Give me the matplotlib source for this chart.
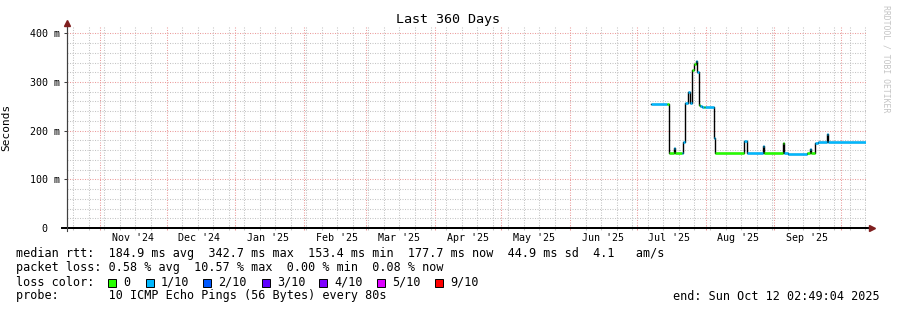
import numpy as np
import pandas as pd
import matplotlib
matplotlib.use("Agg")
import matplotlib.pyplot as plt
import matplotlib.dates as mdates
from matplotlib.patches import Rectangle

# ---------------- data ----------------
start_time = "2024-10-17 02:49:04"
end_time = "2025-10-12 02:49:04"

seg_start = [
    "2025-07-07 10:00", "2025-07-14 12:00", "2025-07-15 16:00", "2025-07-17 19:00",
    "2025-07-18 05:00", "2025-07-21 12:00", "2025-07-21 23:00", "2025-07-22 21:00",
    "2025-07-24 02:00", "2025-07-25 00:00", "2025-07-25 22:00", "2025-07-26 19:00",
    "2025-07-27 12:00", "2025-07-28 03:00", "2025-07-28 22:00", "2025-07-29 12:00",
    "2025-07-30 10:00", "2025-07-31 06:00", "2025-07-31 18:00", "2025-08-04 17:00",
    "2025-08-05 07:00", "2025-08-18 08:00", "2025-08-19 16:00", "2025-08-26 18:00",
    "2025-08-27 04:00", "2025-09-05 00:00", "2025-09-05 10:00", "2025-09-07 00:00",
    "2025-09-15 18:00", "2025-09-17 02:00", "2025-09-17 12:00", "2025-09-19 12:00",
    "2025-09-20 14:00", "2025-09-24 15:00", "2025-09-25 09:00",
]
median_ms = [
    255, 255, 155, 165,
    155, 155, 176, 256,
    279, 256, 324, 336,
    343, 320, 252, 251,
    248, 248, 248, 185,
    154, 179, 155, 168,
    155, 175, 155, 153,
    154, 163, 154, 175,
    177, 193, 177,
]
loss = [
    0.1, 0.0, 0.0, 0.1,
    0.0, 0.1, 0.1, 0.1,
    0.1, 0.1, 0.0, 0.0,
    0.1, 0.1, 0.0, 0.1,
    0.1, 0.0, 0.1, 0.1,
    0.0, 0.1, 0.1, 0.1,
    0.0, 0.0, 0.1, 0.1,
    0.0, 0.1, 0.0, 0.1,
    0.1, 0.1, 0.1,
]

month_labels = ["Nov '24", "Dec '24", "Jan '25", "Feb '25", "Mar '25", "Apr '25",
                "May '25", "Jun '25", "Jul '25", "Aug '25", "Sep '25"]
ytick_vals = [0, 100, 200, 300, 400]
ytick_labels = ["  0", "100 m", "200 m", "300 m", "400 m"]

loss_levels = [0.0, 0.1, 0.2, 0.3, 0.4, 0.5, 0.9]
loss_names = ["0", "1/10", "2/10", "3/10", "4/10", "5/10", "9/10"]
loss_colors = ["#26ff00", "#00b8ff", "#0059ff", "#5e00ff", "#7e00ff", "#dd00ff", "#ff0000"]

rtt_avg, rtt_max, rtt_min, rtt_now, rtt_sd, am_s = 184.9, 342.7, 153.4, 177.7, 44.9, 4.1
pl_avg, pl_max, pl_min, pl_now = 0.58, 10.57, 0.00, 0.08
probe_text = "10 ICMP Echo Pings (56 Bytes) every 80s"
end_text = "end: Sun Oct 12 02:49:04 2025"
title = "Last 360 Days"

# ---------------- style ----------------
MONO = "DejaVu Sans Mono"
GRID = "#c4c4c4"
MGRID = "#eb9c9c"
ARROW = "#7f1f1f"
W, H = 897, 310

fig = plt.figure(figsize=(W / 100, H / 100), dpi=100)
fig.patch.set_facecolor("white")
ax_l, ax_r, ax_t, ax_b = 67, 865.5, 26, 228
ax = fig.add_axes([ax_l / W, 1 - ax_b / H, (ax_r - ax_l) / W, (ax_b - ax_t) / H])
ax.set_facecolor("white")

x0 = mdates.date2num(pd.Timestamp(start_time))
x1 = mdates.date2num(pd.Timestamp(end_time))
edges = np.append(mdates.date2num(pd.to_datetime(seg_start)), x1)
vals = np.array(median_ms, dtype=float)

color_of = dict(zip(loss_levels, loss_colors))
seg_colors = [color_of[l] for l in loss]

ax.step(edges, np.append(vals, vals[-1]), where="post", color="black", lw=1.0, zorder=3)
ax.hlines(vals, edges[:-1], edges[1:], colors=seg_colors, lw=1.8, zorder=4)

ax.set_xlim(x0, x1)
ax.set_ylim(0, 415)

# grid
month_starts = pd.date_range("2024-11-01", "2025-10-01", freq="MS")
weeks = pd.date_range("2024-10-20", "2025-10-12", freq="7D")
ax.set_xticks(mdates.date2num(month_starts))
ax.set_xticks(mdates.date2num(weeks), minor=True)
ax.set_xticklabels([])
ax.set_yticks(ytick_vals)
ax.set_yticks(np.arange(0, 415, 20), minor=True)
dots = (0, (1, 1.4))
ax.grid(which="minor", axis="both", color=GRID, ls=dots, lw=0.75, zorder=0)
ax.grid(which="major", axis="both", color=MGRID, ls=dots, lw=0.75, zorder=1)
ax.set_axisbelow(True)

ax.tick_params(axis="x", which="major", direction="inout", length=3, color=MGRID, width=0.75)
ax.tick_params(axis="x", which="minor", direction="inout", length=3, color=GRID, width=0.75)
ax.tick_params(axis="y", which="major", direction="out", length=2, color="#404040", width=0.75,
               pad=25.0, labelsize=7.2)
ax.tick_params(axis="y", which="minor", length=0)
ax.set_yticklabels(ytick_labels, ha="left", family=MONO, fontsize=7.2)

# month labels
mid_months = [mdates.date2num(m + pd.Timedelta("14D18h")) for m in month_starts[:len(month_labels)]]
sec = ax.secondary_xaxis("bottom")
sec.set_xticks(mid_months)
sec.set_xticklabels(month_labels, family=MONO, fontsize=7.2)
sec.tick_params(length=0, pad=3.5)
sec.spines["bottom"].set_visible(False)

# spines / arrows
for s in ("top", "right"):
    ax.spines[s].set_visible(False)
ax.spines["left"].set_color("#404040")
ax.spines["left"].set_linewidth(0.8)
ax.spines["bottom"].set_color("black")
ax.spines["bottom"].set_linewidth(1.4)
pw, ph = ax_r - ax_l, ax_b - ax_t
ax.plot([-5 / pw, 1 + 4 / pw], [0, 0], transform=ax.transAxes, clip_on=False,
        color="black", lw=1.4, zorder=5)
ax.plot([0, 0], [-3 / ph, 1 + 2 / ph], transform=ax.transAxes, clip_on=False,
        color="#404040", lw=0.8, zorder=5)
ax.plot([1 + 6.5 / pw], [0], marker=">", ms=4.5, color=ARROW, mec=ARROW,
        transform=ax.transAxes, clip_on=False, zorder=6)
ax.plot([0], [1 + 3 / ph], marker="^", ms=4.5, color=ARROW, mec=ARROW,
        transform=ax.transAxes, clip_on=False, zorder=6)

ax.set_ylabel("Seconds", family=MONO, fontsize=8)
ax.yaxis.set_label_coords((11 - ax_l) / pw, 0.5)

# title & watermark
fig.text(448 / W, 1 - 19 / H, title, ha="center", va="center", family=MONO, fontsize=9.6)
fig.text(886 / W, 1 - 59 / H, "RRDTOOL / TOBI OETIKER", ha="center", va="center",
         rotation=270, family=MONO, fontsize=5.9, color="#c4c4c4")

# legend text
FS = 8.5
def ftext(x, y, s, **kw):
    fig.text(x / W, 1 - y / H, s, family=MONO, fontsize=FS, va="center", **kw)

line1 = (f"median rtt:  {rtt_avg:.1f} ms avg  {rtt_max:.1f} ms max  {rtt_min:.1f} ms min  "
         f"{rtt_now:.1f} ms now  {rtt_sd:.1f} ms sd  {am_s:.1f}   am/s")
line2 = (f"packet loss: {pl_avg:.2f} % avg  {pl_max:.2f} % max  {pl_min:.2f} % min  "
         f"{pl_now:.2f} % now")
ftext(16, 254, line1)
ftext(16, 268, line2)
ftext(16, 282, "loss color:")
box_x = [108.3, 145.7, 203, 261.7, 319, 376.7, 435]
for bx, name, col in zip(box_x, loss_names, loss_colors):
    fig.patches.append(Rectangle((bx / W, 1 - 286.5 / H), 8 / W, 8 / H, transform=fig.transFigure,
                                 facecolor=col, edgecolor="black", lw=0.7))
    ftext(bx + 15, 282, name)
ftext(16, 296, "probe:       " + probe_text)
ftext(880, 296, end_text, ha="right")

fig.savefig("out.png", dpi=100, facecolor="white")
